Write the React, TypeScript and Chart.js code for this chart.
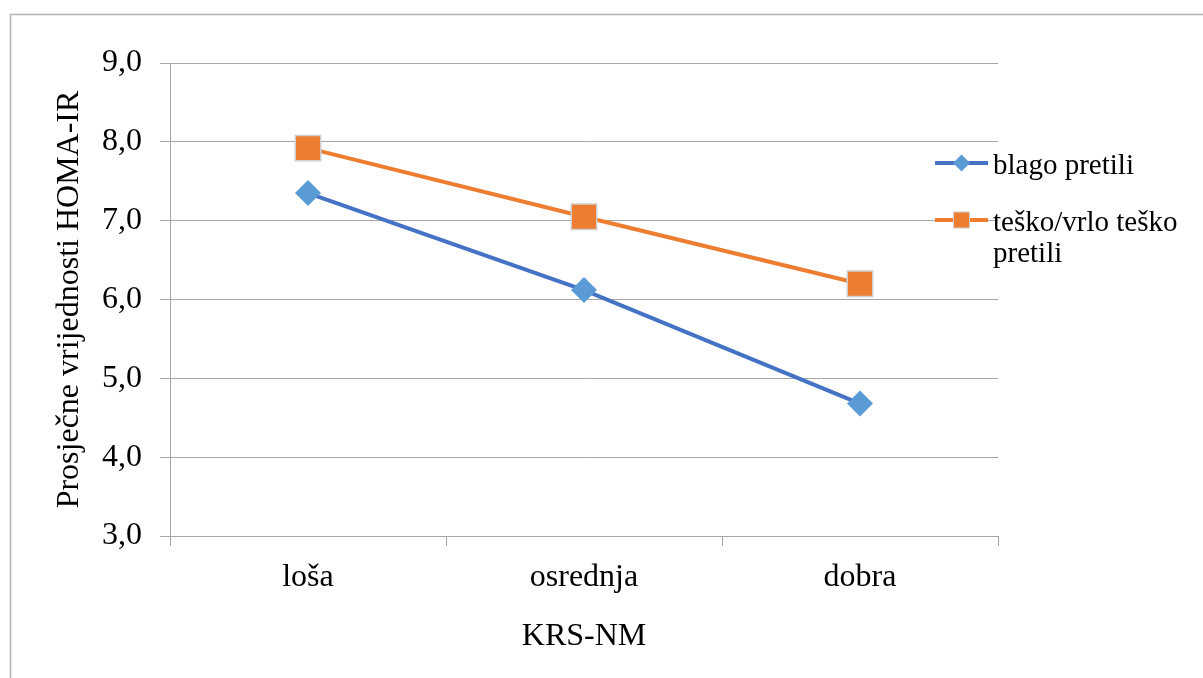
import React, { useEffect, useRef } from "react";
import { Chart, registerables } from "chart.js";

Chart.register(...registerables);

const categories = ["loša", "osrednja", "dobra"];
const seriesNames = ["blago pretili", "teško/vrlo teško pretili"];
const blagoPretili = [7.35, 6.12, 4.68];
const teskoPretili = [7.92, 7.05, 6.2];
const yMin = 3;
const yMax = 9;
const yStep = 1;
const yTitle = "Prosječne vrijednosti HOMA-IR";
const xTitle = "KRS-NM";

const FONT = "'Liberation Serif', 'Times New Roman', serif";
const GRID = "#a6a6a6";
const BLUE_LINE = "#4472C4";
const BLUE_MARK = "#5B9BD5";
const ORANGE = "#ED7D31";

const framePlugin = {
  id: "frame",
  beforeDraw(chart: any) {
    const ctx = chart.ctx;
    ctx.save();
    ctx.fillStyle = "#ffffff";
    ctx.fillRect(0, 0, chart.width, chart.height);
    ctx.strokeStyle = "#b3b3b3";
    ctx.lineWidth = 1.5;
    ctx.strokeRect(10.5, 14.5, chart.width + 50, chart.height + 50);
    ctx.restore();
  },
};

function wrapText(ctx: CanvasRenderingContext2D, text: string, maxW: number) {
  const words = text.split(" ");
  const lines: string[] = [];
  let cur = "";
  for (const w of words) {
    const t = cur ? cur + " " + w : w;
    if (ctx.measureText(t).width > maxW && cur) {
      lines.push(cur);
      cur = w;
    } else cur = t;
  }
  if (cur) lines.push(cur);
  return lines;
}

const legendPlugin = {
  id: "customLegend",
  afterDraw(chart: any) {
    const ctx: CanvasRenderingContext2D = chart.ctx;
    ctx.save();
    ctx.font = `29px ${FONT}`;
    ctx.fillStyle = "#000";
    ctx.textBaseline = "alphabetic";
    ctx.textAlign = "left";
    const x0 = 935;
    const x1 = 988;
    const xc = (x0 + x1) / 2;
    const tx = 993;
    const ys = [163, 220];
    const lineSpacing = 31;
    chart.data.datasets.forEach((ds: any, i: number) => {
      const y = ys[i];
      ctx.strokeStyle = ds.borderColor;
      ctx.lineWidth = 4;
      ctx.beginPath();
      ctx.moveTo(x0, y);
      ctx.lineTo(x1, y);
      ctx.stroke();
      if (i === 0) {
        const r = 8.5;
        ctx.fillStyle = BLUE_MARK;
        ctx.beginPath();
        ctx.moveTo(xc, y - r);
        ctx.lineTo(xc + r, y);
        ctx.lineTo(xc, y + r);
        ctx.lineTo(xc - r, y);
        ctx.closePath();
        ctx.fill();
      } else {
        const h = 8;
        ctx.fillStyle = ORANGE;
        ctx.fillRect(xc - h, y - h, 2 * h, 2 * h);
        ctx.strokeStyle = "#d0cece";
        ctx.lineWidth = 1;
        ctx.strokeRect(xc - h, y - h, 2 * h, 2 * h);
      }
      ctx.fillStyle = "#000";
      const lines = wrapText(ctx, ds.label, 195);
      lines.forEach((ln, k) => {
        ctx.fillText(ln, tx, y + 11 + k * lineSpacing);
      });
    });
    ctx.restore();
  },
};

export default function App() {
  const ref = useRef<HTMLCanvasElement | null>(null);

  useEffect(() => {
    if (!ref.current) return;
    Chart.defaults.font.family = FONT;
    Chart.defaults.color = "#000";
    const chart = new Chart(ref.current, {
      type: "line",
      data: {
        labels: categories,
        datasets: [
          {
            label: seriesNames[0],
            data: blagoPretili,
            borderColor: BLUE_LINE,
            backgroundColor: BLUE_MARK,
            borderWidth: 4,
            pointStyle: "rectRot",
            pointRadius: 13,
            pointHoverRadius: 13,
            pointBackgroundColor: BLUE_MARK,
            pointBorderColor: BLUE_MARK,
            pointBorderWidth: 0,
            tension: 0,
          },
          {
            label: seriesNames[1],
            data: teskoPretili,
            borderColor: ORANGE,
            backgroundColor: ORANGE,
            borderWidth: 4,
            pointStyle: "rect",
            pointRadius: 18,
            pointHoverRadius: 18,
            pointBackgroundColor: ORANGE,
            pointBorderColor: "#d0cece",
            pointBorderWidth: 1.5,
            tension: 0,
          },
        ],
      },
      options: {
        responsive: false,
        animation: false,
        layout: { padding: { top: 63, right: 205, bottom: 0, left: 0 } },
        plugins: {
          legend: { display: false },
          tooltip: { enabled: false },
        },
        scales: {
          x: {
            type: "category",
            offset: true,
            grid: {
              display: true,
              drawOnChartArea: false,
              drawTicks: true,
              tickLength: 10,
              color: GRID,
              offset: true,
            },
            border: { display: true, color: GRID },
            ticks: { font: { size: 32, family: FONT }, color: "#000", padding: 12 },
            title: {
              display: true,
              text: xTitle,
              font: { size: 32, family: FONT },
              color: "#000",
              padding: { top: 0, bottom: 22 },
            },
            afterFit(scale: any) {
              scale.height = 142;
            },
          },
          y: {
            min: yMin,
            max: yMax,
            ticks: {
              stepSize: yStep,
              font: { size: 32, family: FONT },
              color: "#000",
              padding: 18,
              callback: (v: any) => Number(v).toFixed(1).replace(".", ","),
            },
            grid: {
              color: GRID,
              lineWidth: 1,
              drawTicks: true,
              tickLength: 10,
            },
            border: { display: true, color: GRID },
            title: {
              display: true,
              text: yTitle,
              font: { size: 32, family: FONT },
              color: "#000",
              padding: { top: 50, bottom: 0 },
            },
            afterFit(scale: any) {
              scale.width = 170;
            },
          },
        },
      },
      plugins: [framePlugin, legendPlugin],
    });
    return () => chart.destroy();
  }, []);

  return (
    <div style={{ position: "absolute", left: 0, top: 0, width: 1203, height: 678 }}>
      <canvas ref={ref} width={1203} height={678} />
    </div>
  );
}
